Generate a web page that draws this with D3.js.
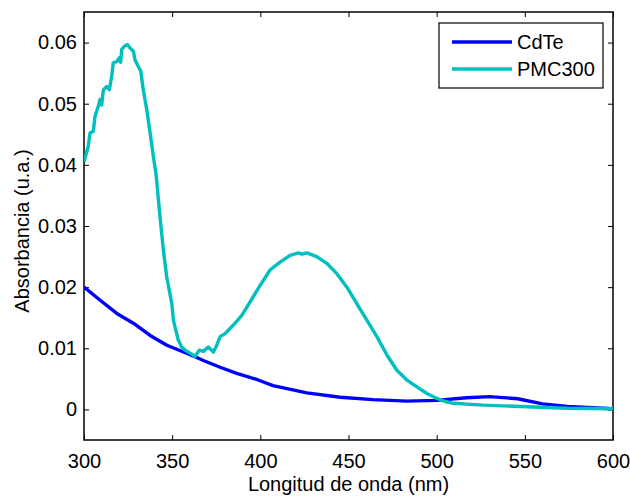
<!DOCTYPE html>
<html>
<head>
<meta charset="utf-8">
<script src="https://cdn.jsdelivr.net/npm/d3@7"></script>
<style>
  body { margin: 0; background: #fff; }
  text { font-family: "Liberation Sans", Arial, sans-serif; }
</style>
</head>
<body>
<script>
// datos
let seriesNames = ["CdTe", "PMC300"];
let seriesColors = ["#0000ff", "#00bfbf"];

let cdteX = [300, 309, 318.6, 328, 337.5, 347, 356.4, 364, 367.7, 377.2, 386.6, 398, 407.2, 426.4, 445.3, 464, 483, 500, 517, 530, 546, 560, 574, 600];
let cdteY = [0.0200, 0.0179, 0.0157, 0.0141, 0.0121, 0.0105, 0.0094, 0.0085, 0.0080, 0.0069, 0.0059, 0.0049, 0.0039, 0.0027, 0.0020, 0.0016, 0.00136, 0.00148, 0.0019, 0.0021, 0.00175, 0.0009, 0.0005, 0.0001];

let pmcX = [300, 302.4, 303.4, 305.3, 306.2, 308.1, 309.1, 310, 311, 312.9, 314.4, 315.7, 316.6, 318.6, 320, 320.8, 321.4, 323.3, 324.6, 326.1, 328, 328.9, 330.8, 332.2, 333.6, 335.6, 337.5, 339.3, 340.9, 343.1, 345, 346.9, 349.8, 350.7, 351.6, 353.5, 355.4, 357.3, 360.1, 363, 365.4, 367.7, 370.5, 373.4, 375.3, 377.2, 380, 384.7, 389.5, 394.2, 399.9, 405.5, 411.2, 416.9, 421.6, 423.5, 426.4, 432, 437.7, 443.4, 449.1, 454.7, 460.4, 466.1, 471.8, 477.4, 483.1, 488.8, 494.5, 500.1, 504.9, 509.6, 526.4, 554.8, 573.9, 600];
let pmcY = [0.0405, 0.0430, 0.0452, 0.0455, 0.0479, 0.0496, 0.0507, 0.0498, 0.0523, 0.0528, 0.0523, 0.0545, 0.0567, 0.0569, 0.0575, 0.0568, 0.0589, 0.0595, 0.0597, 0.0591, 0.0586, 0.0572, 0.0561, 0.0553, 0.0523, 0.0490, 0.0452, 0.0414, 0.0384, 0.0315, 0.0261, 0.0217, 0.0173, 0.0146, 0.0135, 0.0113, 0.0102, 0.0097, 0.0092, 0.0087, 0.0097, 0.0095, 0.0102, 0.0094, 0.0105, 0.0119, 0.0124, 0.0138, 0.0154, 0.0176, 0.0203, 0.0228, 0.0241, 0.0252, 0.0256, 0.0254, 0.0256, 0.0250, 0.0239, 0.0222, 0.0200, 0.0173, 0.0146, 0.0119, 0.0089, 0.0064, 0.0048, 0.0037, 0.0026, 0.0018, 0.0013, 0.0010, 0.0007, 0.0004, 0.0002, 0.0001];

let xTicks = [300, 350, 400, 450, 500, 550, 600];
let yTicks = [0, 0.01, 0.02, 0.03, 0.04, 0.05, 0.06];

let width = 630;
let height = 499;
let plotL = 84, plotR = 613, plotT = 12, plotB = 440;

let svg = d3.select("body")
    .append("svg")
    .attr("width", width)
    .attr("height", height);

let scaleX = d3.scaleLinear().domain([300, 600]).range([plotL, plotR]);
let scaleY = d3.scaleLinear().domain([-0.005, 0.065]).range([plotB, plotT]);

// ejes (ticks hacia dentro, como en Matlab)
let fmtY = d => d === 0 ? "0" : d3.format(".2f")(d);

function styleAxis(g) {
    g.selectAll("path").remove();
    g.selectAll("line").attr("stroke", "#000").attr("stroke-width", 1);
    g.selectAll("text").attr("font-size", 20).attr("fill", "#000");
}

svg.append("g")
    .attr("transform", `translate(0, ${plotB})`)
    .call(d3.axisBottom(scaleX).tickValues(xTicks).tickSizeInner(-5).tickPadding(14))
    .call(styleAxis);
svg.append("g")
    .attr("transform", `translate(0, ${plotT})`)
    .call(d3.axisTop(scaleX).tickValues(xTicks).tickSizeInner(-5).tickFormat(""))
    .call(styleAxis);
svg.append("g")
    .attr("transform", `translate(${plotL}, 0)`)
    .call(d3.axisLeft(scaleY).tickValues(yTicks).tickSizeInner(-5).tickPadding(7).tickFormat(fmtY))
    .call(styleAxis);
svg.append("g")
    .attr("transform", `translate(${plotR}, 0)`)
    .call(d3.axisRight(scaleY).tickValues(yTicks).tickSizeInner(-5).tickFormat(""))
    .call(styleAxis);

// caja del grafico
svg.append("rect")
    .attr("x", plotL).attr("y", plotT)
    .attr("width", plotR - plotL).attr("height", plotB - plotT)
    .attr("fill", "none").attr("stroke", "#000").attr("stroke-width", 1.5);

// curvas
svg.append("clipPath").attr("id", "clip")
    .append("rect").attr("x", plotL).attr("y", plotT)
    .attr("width", plotR - plotL).attr("height", plotB - plotT);

let line = d3.line().x(d => scaleX(d[0])).y(d => scaleY(d[1]));
let allSeries = [d3.zip(cdteX, cdteY), d3.zip(pmcX, pmcY)];

svg.append("g").attr("clip-path", "url(#clip)")
    .selectAll("path")
    .data(allSeries)
    .join("path")
    .attr("d", line)
    .attr("fill", "none")
    .attr("stroke", (d, i) => seriesColors[i])
    .attr("stroke-width", 3.4)
    .attr("stroke-linejoin", "round");

// titulos de ejes
svg.append("text")
    .attr("x", (plotL + plotR) / 2).attr("y", 491)
    .attr("text-anchor", "middle").attr("font-size", 20)
    .text("Longitud de onda (nm)");
svg.append("text")
    .attr("transform", "translate(29, 231) rotate(-90)")
    .attr("text-anchor", "middle").attr("font-size", 20)
    .text("Absorbancia (u.a.)");

// leyenda
let legend = svg.append("g");
legend.append("rect")
    .attr("x", 439).attr("y", 23).attr("width", 164).attr("height", 65)
    .attr("fill", "#fff").attr("stroke", "#000").attr("stroke-width", 1.2);
seriesNames.forEach((name, i) => {
    let y = 42 + i * 27;
    legend.append("line")
        .attr("x1", 452).attr("x2", 512).attr("y1", y).attr("y2", y)
        .attr("stroke", seriesColors[i]).attr("stroke-width", 3.4);
    legend.append("text")
        .attr("x", 517).attr("y", y + 7)
        .attr("font-size", 20)
        .text(name);
});
</script>
</body>
</html>
